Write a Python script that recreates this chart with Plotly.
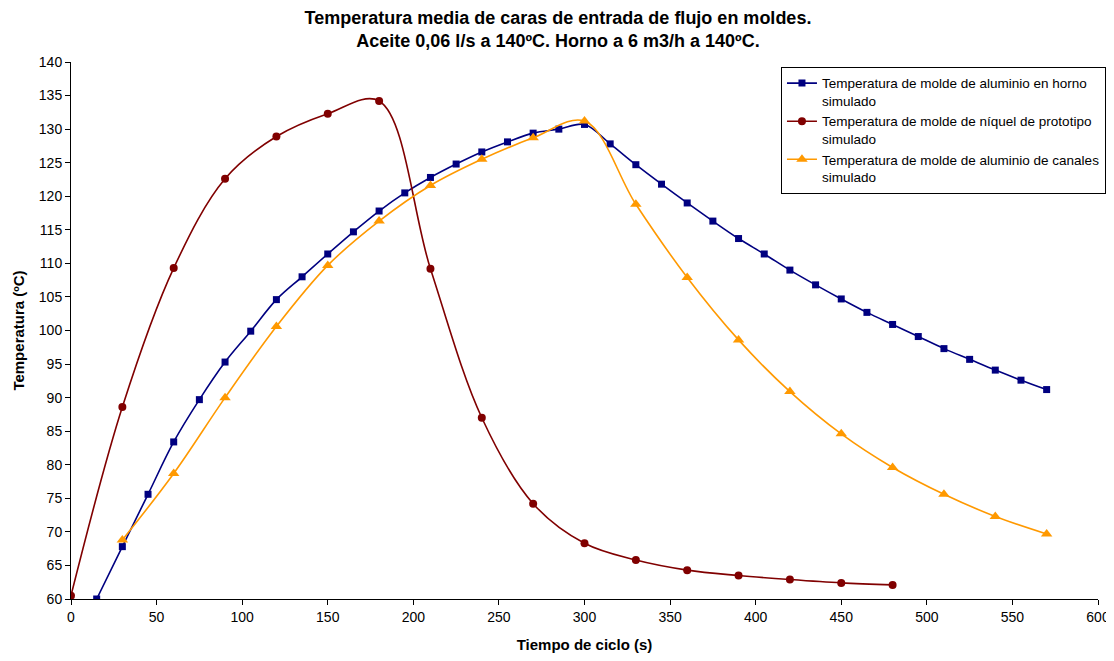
import plotly.graph_objects as go

# Data
x_blue = [15, 30, 45, 60, 75, 90, 105, 120, 135, 150, 165, 180, 195, 210, 225, 240, 255, 270, 285,
          300, 315, 330, 345, 360, 375, 390, 405, 420, 435, 450, 465, 480, 495, 510, 525, 540, 555, 570]
y_blue = [60.0, 67.8, 75.6, 83.4, 89.7, 95.3, 99.9, 104.6, 108.0, 111.4, 114.7, 117.8, 120.5, 122.8,
          124.8, 126.6, 128.1, 129.4, 130.0, 130.7, 127.8, 124.7, 121.8, 119.0, 116.3, 113.7, 111.4,
          109.0, 106.8, 104.7, 102.7, 100.9, 99.1, 97.3, 95.7, 94.1, 92.6, 91.2]

x_red = [0, 30, 60, 90, 120, 150, 180, 210, 240, 270, 300, 330, 360, 390, 420, 450, 480]
y_red = [60.5, 88.6, 109.3, 122.6, 128.9, 132.3, 134.2, 109.2, 87.0, 74.2, 68.3, 65.8, 64.3, 63.5,
         62.9, 62.4, 62.1]

x_orange = [30, 60, 90, 120, 150, 180, 210, 240, 270, 300, 330, 360, 390, 420, 450, 480, 510, 540, 570]
y_orange = [68.8, 78.7, 90.0, 100.6, 109.7, 116.3, 121.6, 125.5, 128.7, 131.2, 118.8, 107.9, 98.6,
            90.9, 84.6, 79.6, 75.6, 72.3, 69.7]

names = ["Temperatura de molde de aluminio en horno<br>simulado",
         "Temperatura de molde de níquel de prototipo<br>simulado",
         "Temperatura de molde de aluminio de canales<br>simulado"]

FONT = "Liberation Sans, Arial, sans-serif"

fig = go.Figure()
fig.add_trace(go.Scatter(x=x_blue, y=y_blue, name=names[0], mode="lines+markers",
                         line=dict(color="#000080", width=1.6, shape="spline", smoothing=1.0),
                         marker=dict(symbol="square", size=7, color="#000080")))
fig.add_trace(go.Scatter(x=x_red, y=y_red, name=names[1], mode="lines+markers",
                         line=dict(color="#800000", width=1.6, shape="spline", smoothing=1.0),
                         marker=dict(symbol="circle", size=8, color="#800000")))
fig.add_trace(go.Scatter(x=x_orange, y=y_orange, name=names[2], mode="lines+markers",
                         line=dict(color="#FF9900", width=1.6, shape="spline", smoothing=1.0),
                         marker=dict(symbol="triangle-up", size=10, color="#FF9900")))

fig.update_layout(
    width=1098, height=645,
    paper_bgcolor="white", plot_bgcolor="white",
    margin=dict(l=63, r=8, t=54, b=54, autoexpand=False),
    font=dict(family=FONT, size=14, color="black"),
    title=dict(text="<b>Temperatura media de caras de entrada de flujo en moldes.<br>Aceite 0,06 l/s a 140ºC. Horno a 6 m3/h a 140ºC.</b>",
               x=0.5009, xanchor="center", xref="container", y=0.9753, yanchor="middle",
               font=dict(family=FONT, size=18, color="black")),
    legend=dict(x=0.6913, y=0.991, xanchor="left", yanchor="top",
                bordercolor="black", borderwidth=1, bgcolor="white",
                font=dict(family=FONT, size=13.5, color="black"),
                valign="top", tracegroupgap=2, itemwidth=30),
    showlegend=True,
)
fig.update_xaxes(range=[0, 600], dtick=50, tick0=0, showgrid=False, zeroline=False,
                 showline=True, linecolor="black", linewidth=1, ticks="outside", ticklen=5,
                 tickcolor="black", tickfont=dict(size=14), automargin=False,
                 ticklabeloverflow="allow",
                 title=dict(text="<b>Tiempo de ciclo (s)</b>", font=dict(family=FONT, size=15), standoff=15))
fig.update_yaxes(range=[60, 140], dtick=5, tick0=60, showgrid=False, zeroline=False,
                 showline=True, linecolor="black", linewidth=1, ticks="outside", ticklen=5,
                 tickcolor="black", tickfont=dict(size=14), automargin=False,
                 ticklabeloverflow="allow",
                 title=dict(text="<b>Temperatura (ºC)</b>", font=dict(family=FONT, size=15), standoff=10))

fig.write_html("out.html")
